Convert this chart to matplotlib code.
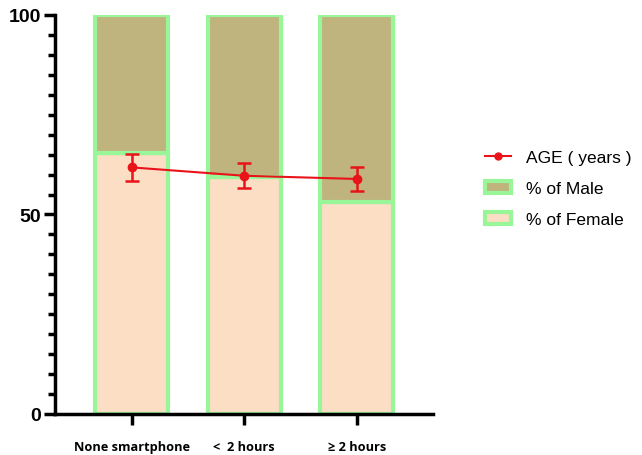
import matplotlib
matplotlib.use("Agg")
import matplotlib.pyplot as plt
import numpy as np
from matplotlib.ticker import MultipleLocator
from matplotlib.lines import Line2D
from matplotlib.patches import Patch

groups = ["None smartphone", "<  2 hours", "\u2265 2 hours"]
female_pct = [65.5, 59.5, 53.0]
male_pct = [34.5, 40.5, 47.0]
age_mean = [61.8, 59.7, 58.9]
age_err = [3.3, 3.1, 2.9]

female_color = "#FCDEC4"
male_color = "#BFB47E"
edge_color = "#98F598"
age_color = "#E8141A"

plt.rcParams['font.family'] = ['Liberation Sans', 'DejaVu Sans']

fig = plt.figure(figsize=(6.42, 4.56), dpi=100)
ax = fig.add_axes([0.0857, 0.09, 0.589, 0.875])

x = np.arange(len(groups))
ax.bar(x, female_pct, width=0.65, color=female_color, edgecolor=edge_color,
       linewidth=3, zorder=2)
ax.bar(x, male_pct, width=0.65, bottom=female_pct, color=male_color,
       edgecolor=edge_color, linewidth=3, zorder=2)
ax.errorbar(x, age_mean, yerr=age_err, color=age_color, marker='o',
            markersize=6, linewidth=1.5, elinewidth=1.8, capsize=5,
            capthick=1.8, zorder=3)

ax.set_xlim(-0.68, 2.68)
ax.set_ylim(0, 100)
ax.set_yticks([0, 50, 100])
ax.yaxis.set_minor_locator(MultipleLocator(5))
ax.set_xticks(x)
ax.set_xticklabels(groups, fontsize=9.2, fontweight='bold',
                   family=['Open Sans', 'DejaVu Sans'])
for lbl in ax.get_yticklabels():
    lbl.set_fontsize(14)
    lbl.set_fontweight('bold')

for side in ['top', 'right']:
    ax.spines[side].set_visible(False)
for side in ['left', 'bottom']:
    ax.spines[side].set_linewidth(2.5)
ax.tick_params(axis='y', which='major', length=8, width=2.5, pad=2)
ax.tick_params(axis='y', which='minor', length=5, width=2.5)
ax.tick_params(axis='x', which='major', length=8, width=2.5, pad=11)

# legend: age line first, then the two stacked shares
handles = [
    Line2D([], [], color=age_color, marker='o', markersize=5, linewidth=1.5),
    Patch(facecolor=male_color, edgecolor=edge_color, linewidth=3),
    Patch(facecolor=female_color, edgecolor=edge_color, linewidth=3),
]
labels = ["AGE ( years )", "% of Male", "% of Female"]
ax.legend(handles, labels, loc='center left', bbox_to_anchor=(1.095, 0.565),
          frameon=False, fontsize=12.5, handlelength=1.5, handleheight=0.7,
          handletextpad=0.9, labelspacing=0.9)

fig.savefig("out.png", dpi=100)
